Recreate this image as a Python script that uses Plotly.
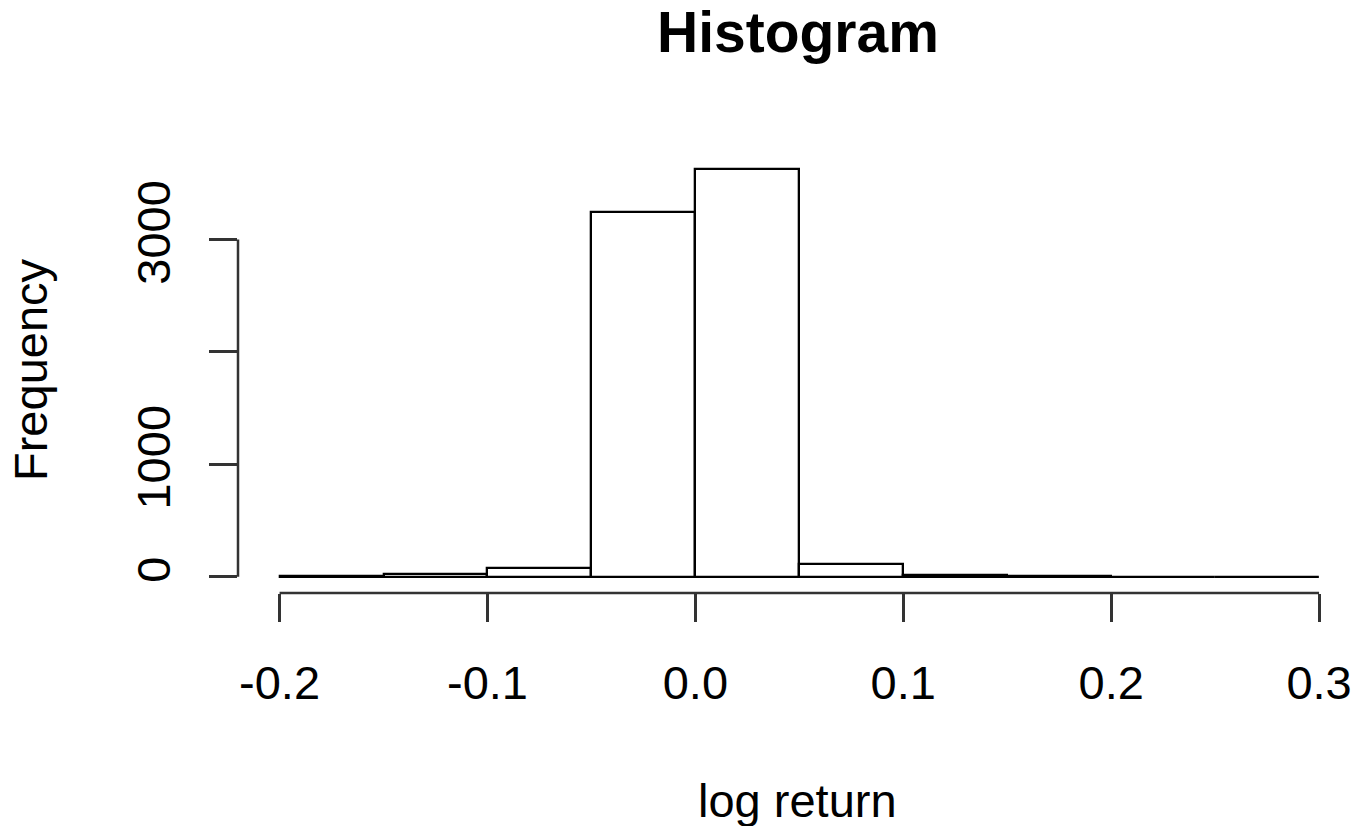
import plotly.graph_objects as go

# Histogram data
bin_edges = [-0.20, -0.15, -0.10, -0.05, 0.00, 0.05, 0.10, 0.15, 0.20, 0.25, 0.30]
counts = [2, 25, 80, 3243, 3624, 110, 12, 3, 1, 1]
x_ticks = [-0.2, -0.1, 0.0, 0.1, 0.2, 0.3]
x_ticktext = ["-0.2", "-0.1", "0.0", "0.1", "0.2", "0.3"]
y_ticks = [0, 1000, 2000, 3000]
y_ticktext = ["0", "1000", "", "3000"]

centers = [(a + b) / 2 for a, b in zip(bin_edges[:-1], bin_edges[1:])]
widths = [b - a for a, b in zip(bin_edges[:-1], bin_edges[1:])]

W, H = 1357, 826
ML, MR, MT, MB = 238, 0, 153, 233
plot_h = H - MT - MB
FONT = "Liberation Sans, Arial, Helvetica, sans-serif"

ymax = max(counts)
yr = [-0.04 * ymax, 1.04 * ymax]
xspan = bin_edges[-1] - bin_edges[0]
xr = [bin_edges[0] - 0.04 * xspan, bin_edges[-1] + 0.0365 * xspan]

fig = go.Figure()
fig.add_trace(go.Bar(
    x=centers, y=counts, width=widths,
    marker=dict(color="white", line=dict(color="black", width=2.3)),
    hoverinfo="x+y", showlegend=False,
))

def py(p):
    return (MT + plot_h - p) / plot_h

fig.update_layout(
    width=W, height=H,
    margin=dict(l=ML, r=MR, t=MT, b=MB, pad=0),
    plot_bgcolor="white", paper_bgcolor="white",
    font=dict(family=FONT, size=47, color="black"),
    bargap=0,
    xaxis=dict(
        range=xr, showgrid=False, zeroline=False, showline=False,
        tickmode="array", tickvals=x_ticks, ticktext=x_ticktext,
        ticks="outside", ticklen=28, tickwidth=2.5, tickcolor="#333",
        tickfont=dict(size=47, family=FONT), ticklabelstandoff=21,
    ),
    yaxis=dict(
        range=yr, showgrid=False, zeroline=False, showline=False,
        tickmode="array", tickvals=y_ticks, ticktext=y_ticktext,
        ticks="outside", ticklen=28, tickwidth=2.5, tickcolor="#333",
        tickangle=-90, tickfont=dict(size=47, family=FONT), ticklabelstandoff=20,
    ),
    shapes=[
        dict(type="line", xref="x", yref="paper", x0=x_ticks[0], x1=x_ticks[-1], y0=0, y1=0,
             line=dict(color="#333", width=2.5)),
        dict(type="line", xref="paper", yref="y", x0=0, x1=0, y0=y_ticks[0], y1=y_ticks[-1],
             line=dict(color="#333", width=2.5)),
    ],
    annotations=[
        dict(text="<b>Histogram</b>", xref="paper", yref="paper", x=0.5, y=py(32),
             xanchor="center", yanchor="middle", showarrow=False,
             font=dict(size=57, family=FONT, color="black")),
        dict(text="log return", xref="paper", yref="paper", x=0.5, y=py(800),
             xanchor="center", yanchor="middle", showarrow=False,
             font=dict(size=47, family=FONT, color="black")),
        dict(text="Frequency", xref="paper", yref="paper", x=(30 - ML) / (W - ML - MR),
             y=py(370), xanchor="center", yanchor="middle", showarrow=False, textangle=-90,
             font=dict(size=47, family=FONT, color="black")),
    ],
)

fig.write_html("out.html", config={"displayModeBar": False},
               post_script="document.body.style.margin='0';document.body.style.overflow='hidden';")
